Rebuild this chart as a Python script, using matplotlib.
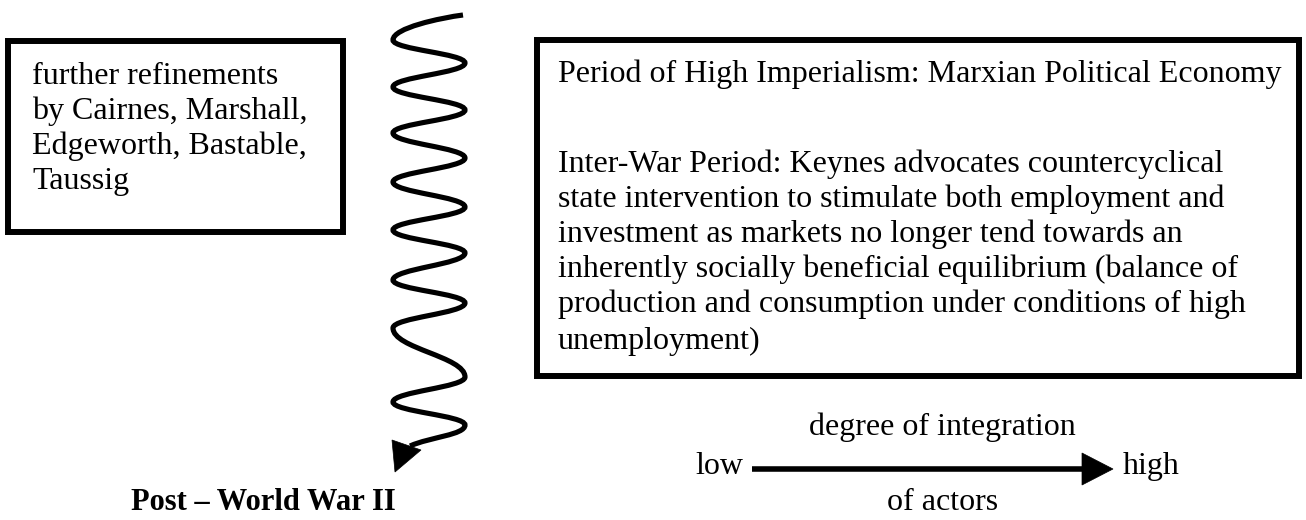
import matplotlib
matplotlib.use("Agg")
import matplotlib.pyplot as plt
from matplotlib.patches import Rectangle, Polygon, PathPatch
from matplotlib.path import Path

# --- content -------------------------------------------------------------
left_lines = ["further refinements", "by Cairnes, Marshall,",
              "Edgeworth, Bastable,", "Taussig"]
left_baselines = [84, 119, 154, 189]

right_lines = ["Period of High Imperialism: Marxian Political Economy",
               "Inter-War Period: Keynes advocates countercyclical",
               "state intervention to stimulate both employment and",
               "investment as markets no longer tend towards an",
               "inherently socially beneficial equilibrium (balance of",
               "production and consumption under conditions of high",
               "unemployment)"]
right_baselines = [82, 172, 207, 242, 277, 312, 349]

# squiggle turning points (left / right extremes), pixel units
wave_start = (463, 15)
wave_left_x, wave_right_x = 393, 465
wave_left_y = [40, 87, 133, 182, 230, 280, 328, 402]
wave_right_y = [63, 110, 158, 207, 253, 303, 377, 425]
wave_end = (410, 446)
wave_head = [(395, 472), (392, 440), (421, 450)]

scale_y = 469
scale_x0, scale_x1 = 752, 1084
scale_head = [(1082, 453), (1082, 485), (1113, 469)]

serif = ["Liberation Serif", "DejaVu Serif"]
fs = 23

fig = plt.figure(figsize=(13.06, 5.2), dpi=100)
ax = fig.add_axes([0, 0, 1, 1])
ax.set_xlim(0, 1306)
ax.set_ylim(520, 0)
ax.axis("off")

# boxes
ax.add_patch(Rectangle((7.5, 41), 335.5, 191, fill=False, lw=4.3, ec="black"))
ax.add_patch(Rectangle((537, 40), 762, 336, fill=False, lw=4.3, ec="black"))

for txt, yb in zip(left_lines, left_baselines):
    ax.text(32, yb, txt, fontsize=fs, family=serif, va="baseline", ha="left")
for txt, yb in zip(right_lines, right_baselines):
    ax.text(558, yb, txt, fontsize=fs, family=serif, va="baseline", ha="left")

# squiggly arrow
verts = [wave_start]
codes = [Path.MOVETO]
# first stroke to the first left peak
y0 = wave_left_y[0]
verts += [(440, 18), (wave_left_x, y0 - 12), (wave_left_x, y0)]
codes += [Path.CURVE4] * 3
peaks = []
for yl, yr in zip(wave_left_y, wave_right_y):
    peaks.append((wave_left_x, yl))
    peaks.append((wave_right_x, yr))
for (xa, ya), (xb, yb) in zip(peaks[:-1], peaks[1:]):
    k = 0.42 * (yb - ya)
    verts += [(xa, ya + k), (xb, yb - k), (xb, yb)]
    codes += [Path.CURVE4] * 3
xa, ya = peaks[-1]
verts += [(xa, ya + 10), (430, 437), wave_end]
codes += [Path.CURVE4] * 3
ax.add_patch(PathPatch(Path(verts, codes), fill=False, lw=3.7, ec="black",
                       capstyle="butt"))
ax.add_patch(Polygon(wave_head, closed=True, fc="black", ec="black", lw=0.5))

ax.text(263, 510, "Post \u2013 World War II", fontsize=22, family=serif,
        weight="bold", ha="center", va="baseline")

# degree of integration scale
ax.plot([scale_x0, scale_x1], [scale_y, scale_y], color="black", lw=4.0,
        solid_capstyle="butt")
ax.add_patch(Polygon(scale_head, closed=True, fc="black", ec="black", lw=0.5))
ax.text(743, 474, "low", fontsize=fs, family=serif, ha="right", va="baseline")
ax.text(1123, 474, "high", fontsize=fs, family=serif, ha="left", va="baseline")
ax.text(942, 435, "degree of integration", fontsize=fs, family=serif,
        ha="center", va="baseline")
ax.text(943, 510, "of actors", fontsize=fs, family=serif, ha="center",
        va="baseline")

fig.savefig("out.png", dpi=100)
